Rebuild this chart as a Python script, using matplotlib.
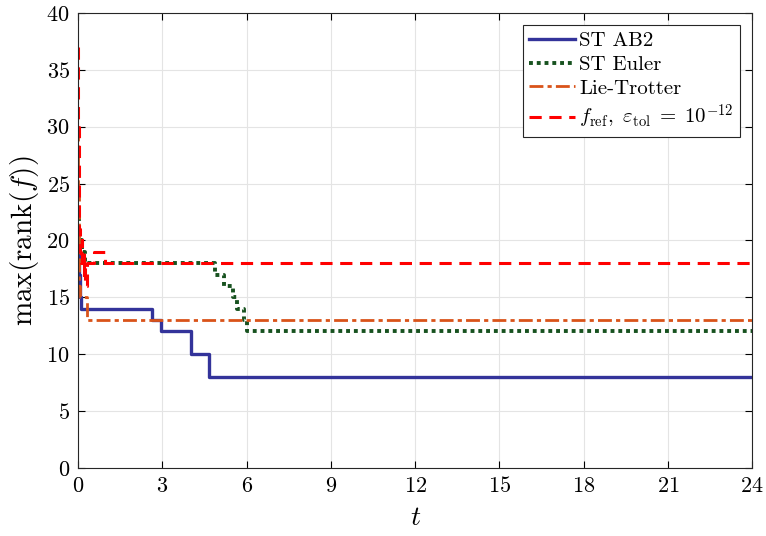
import numpy as np
import matplotlib.pyplot as plt

plt.rcParams['font.family'] = 'serif'
plt.rcParams['font.serif'] = ['cmr10']
plt.rcParams['mathtext.fontset'] = 'cm'
plt.rcParams['axes.formatter.use_mathtext'] = True

# step data (time, rank)
t_ab2 = [0.0, 0.02, 0.05, 0.1, 2.62, 2.94, 4.01, 4.66, 24.0]
r_ab2 = [20, 17, 15, 14, 13, 12, 10, 8, 8]

t_euler = [0.0, 0.03, 0.08, 0.15, 0.25, 4.88, 5.2, 5.5, 5.65, 5.9, 6.0, 24.0]
r_euler = [22, 21, 20, 19, 18, 17, 16, 15, 14, 13, 12, 12]

t_lie = [0.0, 0.01, 0.02, 0.03, 0.05, 0.3, 24.0]
r_lie = [30, 24, 19, 16, 15, 13, 13]

t_ref = [0.0, 0.01, 0.02, 0.03, 0.05, 0.08, 0.1, 0.12, 0.15, 0.2, 0.22,
         0.25, 0.3, 0.55, 0.95, 24.0]
r_ref = [37, 30, 25, 21, 20, 19, 18, 20, 19, 17, 18, 16, 18, 19, 18, 18]

xticks = np.arange(0, 25, 3)
yticks = np.arange(0, 41, 5)


def main():
    fig = plt.figure(figsize=(7.66, 5.36), dpi=100)
    ax = fig.add_axes([0.102, 0.127, 0.880, 0.849])

    ax.plot(t_ab2, r_ab2, color='#33339a', lw=2.4, drawstyle='steps-post',
            label='ST AB2')
    ax.plot(t_euler, r_euler, color='#17521f', lw=2.8, ls=(0, (1, 1)),
            drawstyle='steps-post', label='ST Euler')
    ax.plot(t_lie, r_lie, color='#d95319', lw=2, ls=(0, (5, 1.5, 1.5, 1.5)),
            drawstyle='steps-post', label='Lie-Trotter')
    ax.plot(t_ref, r_ref, color='#ff0000', lw=2.2, ls=(0, (4, 2.5)),
            drawstyle='steps-post',
            label=r'$f_{\mathrm{ref}},\ \varepsilon_{\mathrm{tol}}\;=\;10^{-12}$')

    ax.set_xlim(0, 24)
    ax.set_ylim(0, 40)
    ax.set_xticks(xticks)
    ax.set_yticks(yticks)
    ax.grid(True, color='#e4e4e4', lw=0.8)
    ax.set_axisbelow(True)
    ax.tick_params(direction='in', top=True, right=True, labelsize=16,
                   length=5, pad=6)
    for s in ax.spines.values():
        s.set_color('#262626')
    ax.set_xlabel(r'$t$', fontsize=20, labelpad=6)
    ax.set_ylabel(r'$\max(\mathrm{rank}(f))$', fontsize=21, labelpad=4)

    leg = ax.legend(loc='upper right', fontsize=15, fancybox=False,
                    edgecolor='#262626', framealpha=1, handlelength=2.2,
                    borderaxespad=0.6, labelspacing=0.25, borderpad=0.3,
                    handletextpad=0.2)
    leg.get_frame().set_linewidth(0.8)

    fig.savefig('out.png', dpi=100)


if __name__ == "__main__":
    main()
